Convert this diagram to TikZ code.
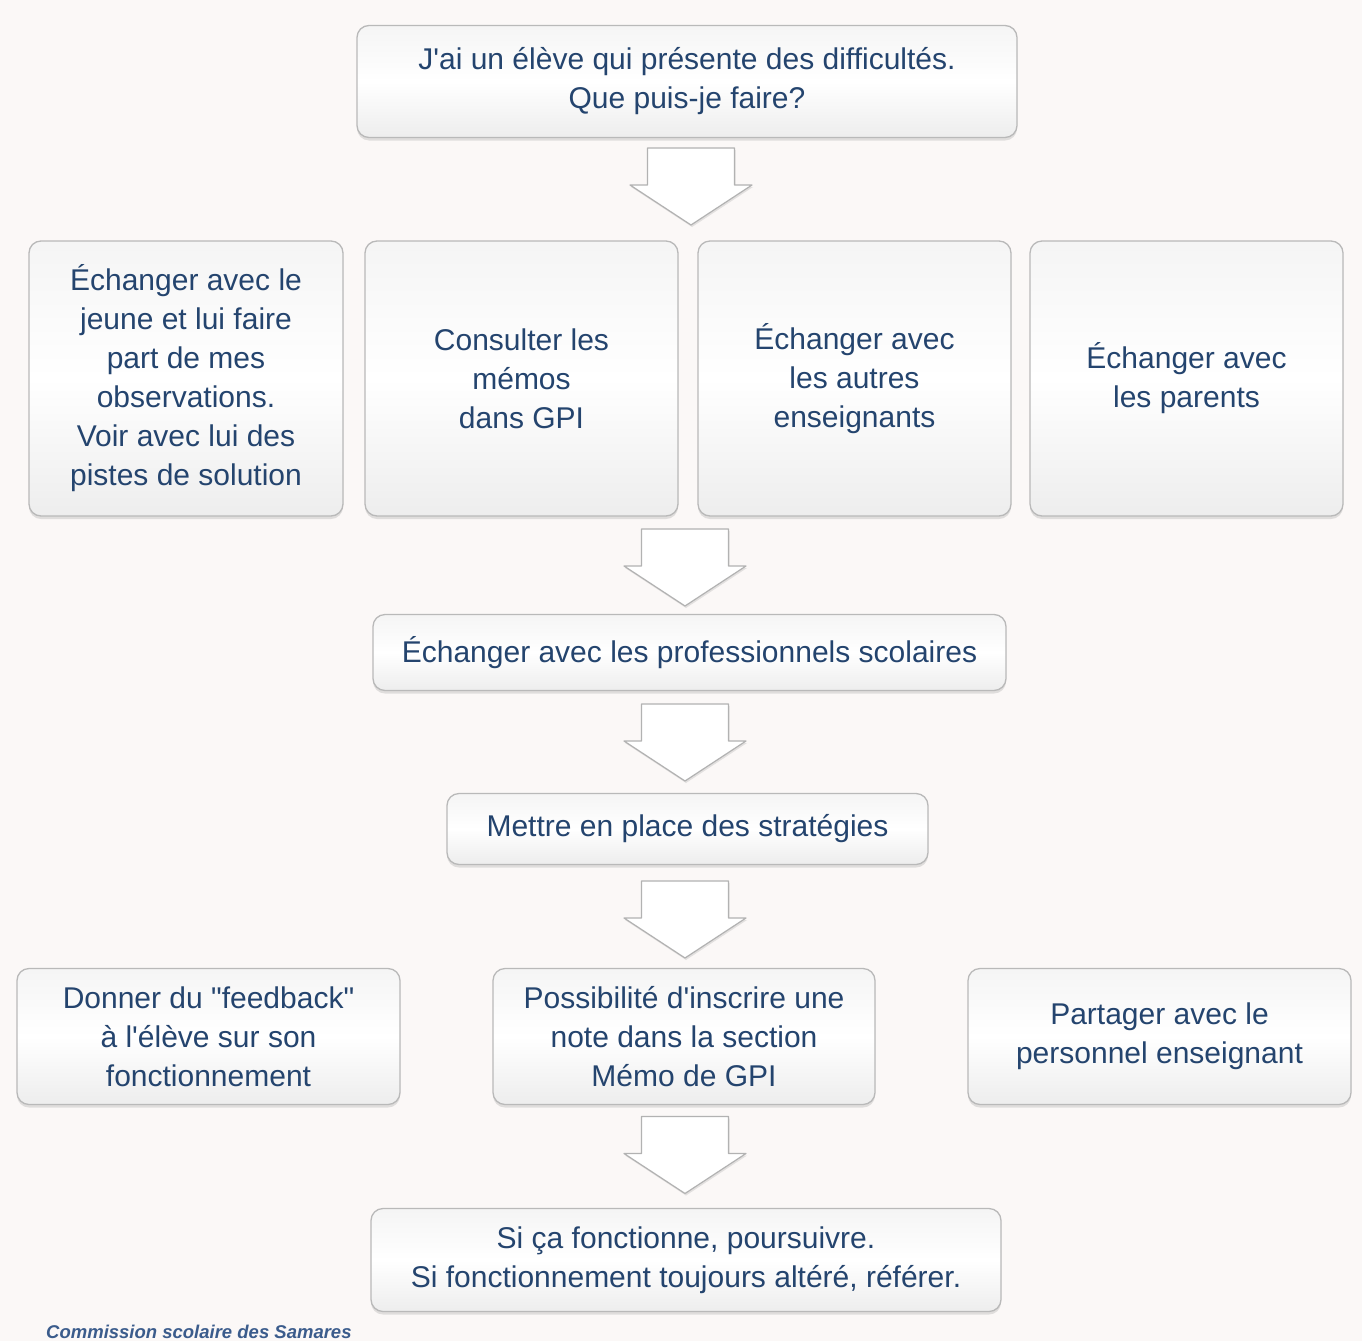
\documentclass[tikz,border=0pt]{standalone}
\usepackage{fontspec}
\setmainfont{Liberation Sans}[Ligatures=TeXOff]
\usetikzlibrary{shadows}
\definecolor{bgc}{HTML}{FBF8F7}
\definecolor{ink}{HTML}{24446E}
\definecolor{foot}{HTML}{3B5C8C}
\tikzset{
  box/.style={rounded corners=12pt, draw=gray!55, line width=1.3pt,
    top color=gray!8, bottom color=gray!14, middle color=white,
    drop shadow={opacity=0.22, shadow xshift=0pt, shadow yshift=-3pt},
    text=ink, align=center, inner sep=0pt,
    font=\fontsize{30}{39}\selectfont},
  blockarrow/.style={draw=gray!60, line width=1.2pt, fill=white, line join=round,
    drop shadow={opacity=0.2, shadow xshift=1pt, shadow yshift=-2pt}}
}
% block arrow: centre coordinate name
\newcommand\downblock[1]{%
  \path[blockarrow] ([shift={(-43.5,-38.5)}]#1) -- ([shift={(43.5,-38.5)}]#1)
    -- ([shift={(43.5,-1.5)}]#1) -- ([shift={(61,-1.5)}]#1)
    -- ([shift={(0,38.5)}]#1) -- ([shift={(-61,-1.5)}]#1)
    -- ([shift={(-43.5,-1.5)}]#1) -- cycle;}
\begin{document}
\begin{tikzpicture}[x=1pt,y=-1pt]
\fill[bgc] (0,0) rectangle (1362,1341);
\useasboundingbox (0,0) rectangle (1362,1341);

\node[box, minimum width=660pt, minimum height=112pt] (q) at (687,81.5)
  {J'ai un élève qui présente des difficultés.\\Que puis-je faire?};

\node[box, minimum width=314pt, minimum height=275pt] (a) at (186,378.5)
  {Échanger avec le\\jeune et lui faire\\part de mes\\observations.\\Voir avec lui des\\pistes de solution};
\node[box, minimum width=313pt, minimum height=275pt] (b) at (521.5,378.5)
  {Consulter les\\mémos\\dans GPI};
\node[box, minimum width=313pt, minimum height=275pt] (c) at (854.5,378.5)
  {Échanger avec\\les autres\\enseignants};
\node[box, minimum width=313pt, minimum height=275pt] (d) at (1186.5,378.5)
  {Échanger avec\\les parents};

\node[box, minimum width=633pt, minimum height=76pt] (p) at (689.5,652.5)
  {Échanger avec les professionnels scolaires};
\node[box, minimum width=481pt, minimum height=71pt] (m) at (687.5,829)
  {Mettre en place des stratégies};

\node[box, minimum width=383pt, minimum height=136pt] (f) at (208.5,1036.5)
  {Donner du "feedback"\\à l'élève sur son\\fonctionnement};
\node[box, minimum width=382pt, minimum height=136pt] (n) at (684,1036.5)
  {Possibilité d'inscrire une\\note dans la section\\Mémo de GPI};
\node[box, minimum width=383pt, minimum height=136pt] (s) at (1159.5,1036.5)
  {Partager avec le\\personnel enseignant};

\node[box, minimum width=630pt, minimum height=103pt] (r) at (686,1260)
  {Si ça fonctionne, poursuivre.\\Si fonctionnement toujours altéré, référer.};

\coordinate (a1) at (691,186.5);
\coordinate (a2) at (685,567.5);
\coordinate (a3) at (685,742.5);
\coordinate (a4) at (685,919.5);
\coordinate (a5) at (685,1155);
\downblock{a1}
\downblock{a2}
\downblock{a3}
\downblock{a4}
\downblock{a5}

\node[anchor=west, text=foot, font=\fontsize{18.5}{20}\selectfont\bfseries\itshape, inner sep=0pt] (cs) at (46,1332)
  {Commission scolaire des Samares};
\end{tikzpicture}
\end{document}
